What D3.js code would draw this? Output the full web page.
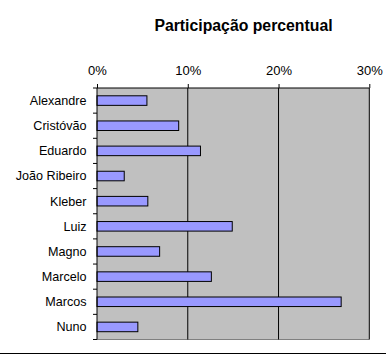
<!DOCTYPE html>
<html><head><meta charset="utf-8">
<script src="https://cdn.jsdelivr.net/npm/d3@7"></script>
<style>body{margin:0;background:#fff}svg{display:block}</style>
</head><body>
<script>
const categories = ["Alexandre","Cristóvão","Eduardo","João Ribeiro","Kleber","Luiz","Magno","Marcelo","Marcos","Nuno"];
const values = [5.5, 9.0, 11.4, 3.0, 5.6, 14.9, 6.9, 12.6, 26.9, 4.5];
const tickValues = [0, 10, 20, 30];
const tickLabels = ["0%","10%","20%","30%"];
const title = "Participação percentual";

const W = 386, H = 355;
const svg = d3.select("body").append("svg").attr("width", W).attr("height", H);
const L = 97, R = 369.3, T = 88, B = 339.5;
const x = d3.scaleLinear().domain([0, 30]).range([L, R]);
const y = d3.scaleBand().domain(categories).range([T, B]).paddingInner(0.62).paddingOuter(0.31);
const FONT = "Liberation Sans, Arial, sans-serif";

svg.append("text").attr("x", 243.5).attr("y", 30.5).attr("text-anchor", "middle")
  .attr("font-family", FONT).attr("font-weight", "bold")
  .attr("font-size", 15.8).attr("fill", "#000").text(title);

svg.append("rect").attr("x", L).attr("y", T).attr("width", R - L).attr("height", B - T).attr("fill", "#c0c0c0");
svg.append("line").attr("x1", L).attr("x2", R).attr("y1", B).attr("y2", B).attr("stroke", "#808080").attr("stroke-width", 1);
svg.selectAll(".grid").data(tickValues.slice(1)).enter().append("line")
  .attr("x1", d => x(d)).attr("x2", d => x(d)).attr("y1", T).attr("y2", B)
  .attr("stroke", "#000").attr("stroke-width", 1);

svg.selectAll(".bar").data(values).enter().append("rect")
  .attr("x", x(0)).attr("y", (d, i) => y(categories[i]))
  .attr("width", d => x(d) - x(0)).attr("height", y.bandwidth())
  .attr("fill", "#9999ff").attr("stroke", "#000").attr("stroke-width", 1);

const xAxis = d3.axisTop(x).tickValues(tickValues).tickFormat((d, i) => tickLabels[i]).tickSize(4).tickPadding(9);
const gx = svg.append("g").attr("transform", `translate(0,${T})`).call(xAxis);
gx.select(".domain").attr("stroke", "#000").attr("d", `M${L},0H${R}`);
gx.selectAll("text").attr("font-family", FONT).attr("font-size", 13).attr("fill", "#000");

const yAxisG = svg.append("g");
yAxisG.append("line").attr("x1", L).attr("x2", L).attr("y1", T).attr("y2", B).attr("stroke", "#000");
const boundaries = d3.range(categories.length + 1).map(i => T + (B - T) * i / categories.length);
yAxisG.selectAll(".tk").data(boundaries).enter().append("line")
  .attr("x1", L - 4).attr("x2", L).attr("y1", d => d).attr("y2", d => d).attr("stroke", "#000");
yAxisG.selectAll(".lbl").data(categories).enter().append("text")
  .attr("x", L - 10.5).attr("y", d => y(d) + y.bandwidth() / 2).attr("dy", "0.35em")
  .attr("text-anchor", "end").attr("font-family", FONT)
  .attr("font-size", 12.6).attr("fill", "#000").text(d => d);

svg.append("line").attr("x1", 0).attr("x2", W).attr("y1", 353.5).attr("y2", 353.5).attr("stroke", "#000").attr("stroke-width", 1);
</script>
</body></html>
